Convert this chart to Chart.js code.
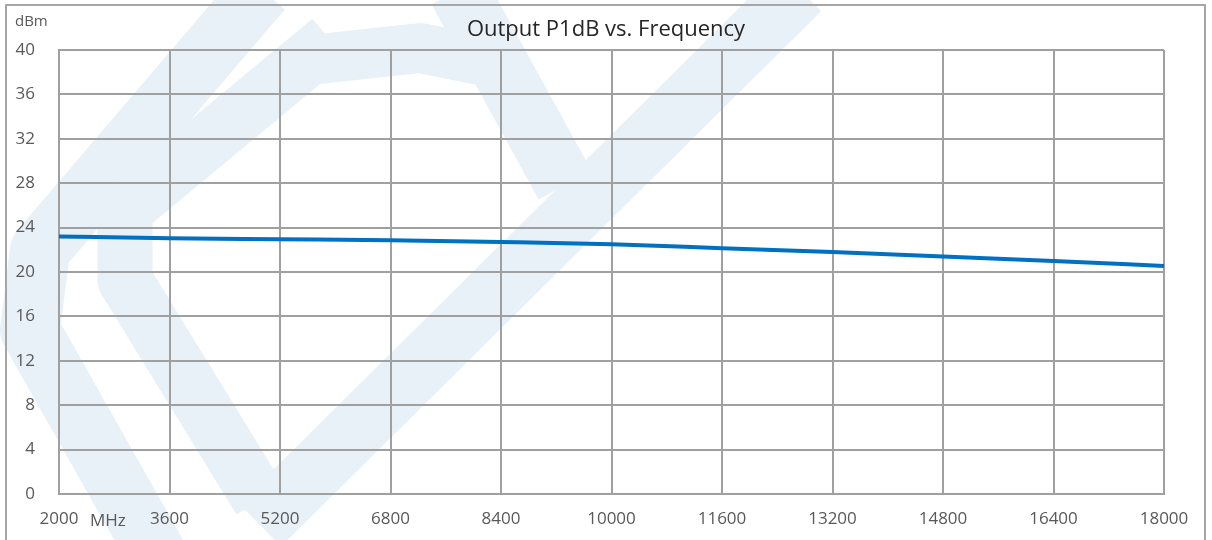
<!DOCTYPE html>
<html>
<head>
<meta charset="utf-8">
<title>Output P1dB vs. Frequency</title>
<script src="https://cdn.jsdelivr.net/npm/chart.js@4"></script>
<style>
    html, body { margin: 0; padding: 0; background: #ffffff; }
    #chartBox { position: relative; width: 1212px; height: 540px; }
</style>
</head>
<body>
<div id="chartBox"><canvas id="p1dbChart"></canvas></div>
<script>
// --- Data ---
const frequencies = [2000, 3600, 5200, 6800, 8400, 10000, 11600, 13200, 14800, 16400, 18000];
const p1dbValues = [23.2, 23.05, 22.95, 22.85, 22.7, 22.5, 22.15, 21.8, 21.4, 21.0, 20.55];
const yMin = 0;
const yMax = 40;
const yStep = 4;
const xStep = 1600;

const chartTitle = 'Output P1dB vs. Frequency';
const yUnit = 'dBm';
const xUnit = 'MHz';

// Styling
const gridColor = '#a0a0a0';
const tickColor = '#595959';
const lineColor = '#0070c0';
const fontFamily = "'Open Sans', 'Noto Sans', sans-serif";

// --- Background watermark + frame ---
const watermarkPlugin = {
    id: 'watermark',
    beforeDraw(chart) {
        const ctx = chart.ctx;
        ctx.save();
        ctx.fillStyle = '#ffffff';
        ctx.fillRect(0, 0, chart.width, chart.height);
        ctx.strokeStyle = 'rgb(232, 240, 248)';
        ctx.lineJoin = 'round';
        ctx.lineCap = 'butt';
        const strokes = [
            { w: 60, pts: [[262, -10], [40, 250], [30, 330], [160, 560]] },
            { w: 55, pts: [[330, 40], [125, 210], [125, 280], [260, 500]] },
            { w: 50, pts: [[310, 60], [420, 48], [480, 60]] },
            { w: 60, pts: [[458, -10], [565, 185]] },
            { w: 60, pts: [[800, -10], [260, 525]] }
        ];
        strokes.forEach(s => {
            ctx.lineWidth = s.w;
            ctx.beginPath();
            s.pts.forEach((p, i) => i === 0 ? ctx.moveTo(p[0], p[1]) : ctx.lineTo(p[0], p[1]));
            ctx.stroke();
        });
        // outer frame
        ctx.strokeStyle = '#a6a6a6';
        ctx.lineWidth = 2;
        ctx.strokeRect(6, 5, 1199, 545);
        ctx.restore();
    },
    afterDraw(chart) {
        const ctx = chart.ctx;
        const xScale = chart.scales.x;
        ctx.save();
        ctx.textBaseline = 'middle';
        ctx.fillStyle = '#262626';
        ctx.textAlign = 'center';
        ctx.font = `22px ${fontFamily}`;
        ctx.fillText(chartTitle, 606, 30);
        ctx.fillStyle = tickColor;
        ctx.textAlign = 'left';
        ctx.font = `15px ${fontFamily}`;
        ctx.fillText(yUnit, 15, 22);
        ctx.font = `17px ${fontFamily}`;
        ctx.fillText(xUnit, xScale.getPixelForValue(frequencies[0]) + 31, 521);
        ctx.restore();
    }
};

// --- Chart ---
const ctx = document.getElementById('p1dbChart').getContext('2d');
const chart = new Chart(ctx, {
    type: 'line',
    data: {
        datasets: [{
            label: 'P1dB',
            data: frequencies.map((f, i) => ({ x: f, y: p1dbValues[i] })),
            borderColor: lineColor,
            backgroundColor: lineColor,
            borderWidth: 4,
            pointRadius: 0,
            tension: 0.4,
            cubicInterpolationMode: 'monotone',
            fill: false
        }]
    },
    options: {
        responsive: true,
        maintainAspectRatio: false,
        animation: false,
        layout: { padding: { left: 6, top: 50, right: 48, bottom: 0 } },
        plugins: {
            legend: { display: false },
            title: { display: false },
            tooltip: { enabled: false }
        },
        scales: {
            x: {
                type: 'linear',
                min: frequencies[0],
                max: frequencies[frequencies.length - 1],
                afterFit: s => { s.height = 46; },
                grid: { color: gridColor, lineWidth: 2, drawTicks: false },
                border: { display: true, color: gridColor, width: 2 },
                ticks: {
                    stepSize: xStep,
                    autoSkip: false,
                    maxRotation: 0,
                    padding: 15,
                    color: tickColor,
                    font: { family: fontFamily, size: 17 },
                    callback: v => String(v)
                }
            },
            y: {
                min: yMin,
                max: yMax,
                afterFit: s => { s.width = 53; },
                grid: { color: gridColor, lineWidth: 2, drawTicks: false },
                border: { display: true, color: gridColor, width: 2 },
                ticks: {
                    stepSize: yStep,
                    padding: 24,
                    color: tickColor,
                    font: { family: fontFamily, size: 17 }
                }
            }
        }
    },
    plugins: [watermarkPlugin]
});
</script>
</body>
</html>
